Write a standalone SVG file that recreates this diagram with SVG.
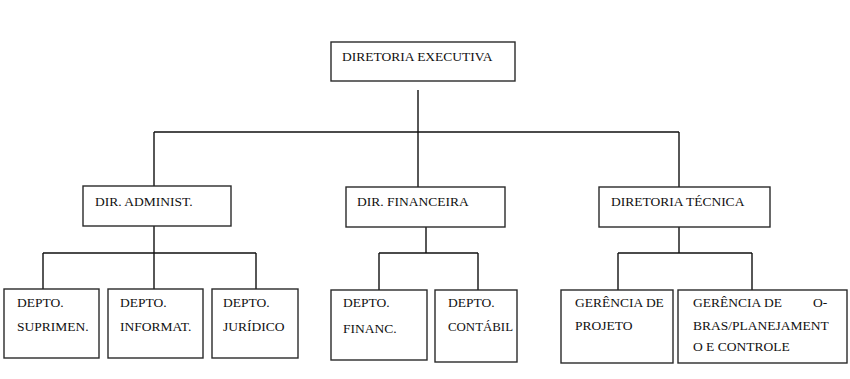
<svg xmlns="http://www.w3.org/2000/svg" width="850" height="379" viewBox="0 0 850 379">
  <style>
    .box { fill: #ffffff; stroke: #2a2a2a; stroke-width: 1.4; }
    .lbl { font-family: "Liberation Serif", "Times New Roman", serif; font-size: 13.5px; fill: #111111; }
    .wire { fill: none; stroke: #111111; stroke-width: 1.4; }
  </style>
  <rect width="850" height="379" fill="#ffffff"/>

  <!-- connectors -->
  <g id="connectors">
    <path class="wire" d="M418,90 V132 M154,132 H679 M154,132 V186 M418,132 V187 M679,132 V187"/>
    <path class="wire" d="M154,226 V253 M43,253 H256 M43,253 V289 M154,253 V289 M256,253 V289"/>
    <path class="wire" d="M426,227 V253 M379,253 H478 M379,253 V290 M478,253 V290"/>
    <path class="wire" d="M679,227 V253 M618,253 H752 M618,253 V290 M752,253 V290"/>
  </g>

  <g id="diretoria-executiva">
    <rect class="box" x="331" y="42" width="184" height="39"/>
    <text class="lbl" x="342" y="61">DIRETORIA EXECUTIVA</text>
  </g>

  <g id="dir-administ">
    <rect class="box" x="83" y="186" width="148" height="40"/>
    <text class="lbl" x="95" y="206">DIR. ADMINIST.</text>
  </g>

  <g id="dir-financeira">
    <rect class="box" x="346" y="187" width="159" height="40"/>
    <text class="lbl" x="357" y="206">DIR. FINANCEIRA</text>
  </g>

  <g id="diretoria-tecnica">
    <rect class="box" x="599" y="187" width="171" height="40"/>
    <text class="lbl" x="611" y="206">DIRETORIA TÉCNICA</text>
  </g>

  <g id="depto-suprimen">
    <rect class="box" x="4" y="289" width="95" height="69"/>
    <text class="lbl" x="17" y="307">DEPTO.</text>
    <text class="lbl" x="17" y="331">SUPRIMEN.</text>
  </g>

  <g id="depto-informat">
    <rect class="box" x="108" y="289" width="95" height="69"/>
    <text class="lbl" x="120" y="307">DEPTO.</text>
    <text class="lbl" x="120" y="331">INFORMAT.</text>
  </g>

  <g id="depto-juridico">
    <rect class="box" x="212" y="289" width="86" height="69"/>
    <text class="lbl" x="223" y="307">DEPTO.</text>
    <text class="lbl" x="223" y="331">JURÍDICO</text>
  </g>

  <g id="depto-financ">
    <rect class="box" x="331" y="290" width="96" height="70"/>
    <text class="lbl" x="343" y="307">DEPTO.</text>
    <text class="lbl" x="343" y="333">FINANC.</text>
  </g>

  <g id="depto-contabil">
    <rect class="box" x="435" y="290" width="82" height="72"/>
    <text class="lbl" x="448" y="307">DEPTO.</text>
    <text class="lbl" x="448" y="331" textLength="65" lengthAdjust="spacingAndGlyphs">CONTÁBIL</text>
  </g>

  <g id="gerencia-projeto">
    <rect class="box" x="561" y="290" width="112" height="73"/>
    <text class="lbl" x="575" y="307">GERÊNCIA DE</text>
    <text class="lbl" x="575" y="330">PROJETO</text>
  </g>

  <g id="gerencia-obras">
    <rect class="box" x="678" y="290" width="169" height="73"/>
    <text class="lbl" x="693" y="307">GERÊNCIA</text>
    <text class="lbl" x="764" y="307">DE</text>
    <text class="lbl" x="813" y="307">O-</text>
    <text class="lbl" x="693" y="330">BRAS/PLANEJAMENT</text>
    <text class="lbl" x="693" y="351">O E CONTROLE</text>
  </g>
</svg>
